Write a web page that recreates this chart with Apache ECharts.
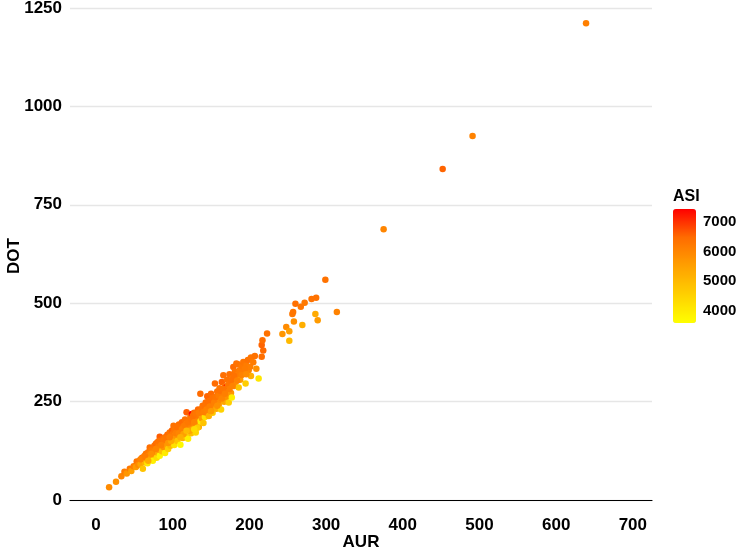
<!DOCTYPE html>
<html>
<head>
<meta charset="utf-8">
<script src="https://cdn.jsdelivr.net/npm/echarts@6/dist/echarts.min.js"></script>
<style>html,body{margin:0;padding:0;background:#fff;}#main{width:740px;height:553px;}</style>
</head>
<body>
<div id="main"></div>
<script>
const aur = [
17,26,33,37,40,44,46,49,52,53,
55,57,58,60,61,62,63,64,65,66,
67,68,69,70,70,71,72,73,74,75,
76,76,77,78,79,80,80,81,82,83,
83,84,85,86,86,87,88,89,90,90,
91,92,93,94,95,95,96,97,98,99,
100,100,101,102,103,104,105,106,107,108,
109,110,110,111,112,113,114,115,116,117,
118,118,119,120,121,122,123,124,125,125,
126,127,128,129,130,131,132,133,134,135,
136,136,137,138,139,140,141,142,143,144,
145,146,147,148,149,150,151,152,153,154,
155,156,157,158,159,160,161,162,163,164,
165,166,167,168,170,170,171,172,173,174,
175,176,177,178,179,180,181,182,183,184,
185,186,187,188,190,192,193,195,196,198,
199,201,202,202,205,207,209,212,216,218,
216,217,223,243,248,252,252,256,257,258,
260,267,269,272,281,286,287,289,299,314,
375,452,491,639,58,64,68,72,78,82,
88,92,94,98,102,104,106,108,112,114,
116,120,122,124,126,128,130,132,134,138,
140,142,144,146,148,150,152,154,156,158,
160,162,164,166,168,172,174,176,178,180,
184,188,190,194,196,85,96,110,118,128
];
const dot = [
33,47,61,72,68,80,74,86,84,98,
90,100,92,108,80,103,112,96,118,107,
94,122,113,134,104,120,127,110,100,131,
138,118,125,143,108,132,147,120,138,161,
113,128,150,142,124,156,135,146,120,160,
152,140,166,130,158,148,172,138,162,177,
150,168,189,140,172,160,182,150,176,192,
165,141,184,172,198,158,188,178,205,162,
223,194,182,156,200,188,212,170,219,196,
180,206,222,190,172,214,200,230,186,218,
200,270,226,208,240,196,232,211,248,222,
264,236,214,252,228,270,244,222,258,236,
296,250,232,276,262,242,284,254,230,300,
270,317,250,288,287,262,306,276,248,320,
296,272,261,310,338,290,326,300,347,318,
345,286,330,306,340,351,322,296,342,356,
330,339,362,315,350,366,334,309,364,380,
394,406,423,422,440,429,405,473,478,454,
499,491,445,501,511,473,514,457,560,478,
688,841,925,1211,104,110,100,118,130,150,
152,158,145,150,178,170,186,170,180,168,
190,198,176,206,214,198,220,184,222,232,
224,240,230,250,238,226,260,248,262,240,
266,278,258,282,270,292,282,304,290,316,
304,322,318,334,320,140,160,160,176,180
];
const asi = [
5900,5800,6000,6180,5700,6240,5500,6120,5600,6300,
5900,6180,5400,6360,4800,6000,6120,5100,6300,5800,
4100,6240,5900,6420,5200,6060,6180,5500,3900,6120,
6300,5700,6000,6480,4300,6060,6360,5400,6180,6600,
3800,5600,6240,6000,4900,6420,5800,6120,4000,6300,
6060,5500,6480,4600,6180,5900,6360,5000,6120,6540,
5600,6240,6360,4200,6060,5700,6300,4800,6180,6420,
5800,3700,6240,6000,6480,5200,6180,5900,6360,4700,
6600,6120,5700,3900,6240,6000,6360,4900,7400,6060,
5500,6180,6420,5800,4400,6240,6000,6480,5300,6120,
4000,6480,6180,5600,6360,4800,6240,4200,6420,5900,
6540,6120,5200,6300,5800,6480,6180,4700,6240,5900,
6480,6060,5300,6360,6120,5600,6300,5900,4500,6540,
6180,6420,5400,6240,7400,5800,6360,6060,4600,6420,
6180,5700,3900,6240,6480,6000,6300,5800,6420,6120,
6360,4800,6180,5600,6240,6300,5900,4600,6180,6360,
6000,6120,6300,5200,6180,6360,5800,4100,6420,6480,
6540,6420,6360,5700,5900,5500,5000,6240,6300,5800,
6420,6300,5200,6240,6360,5300,6360,5600,6360,6060,
6000,6540,6060,6120,6060,6180,5300,5800,6000,6360,
6240,6300,5700,5300,6300,6120,6360,6000,6060,5500,
6180,6240,5400,6300,6360,6000,6300,4600,6180,6300,
6120,6360,6060,6420,6120,5600,6360,6120,6300,5800,
6180,6360,6000,6300,6120,6300,6120,6360,6060,6360,
6060,6180,6060,6180,5900,6060,6120,5200,5000,4300
];
const xTicks = [0, 100, 200, 300, 400, 500, 600, 700];
const yTicks = [0, 250, 500, 750, 1000, 1250];
const legendTicks = [4000, 5000, 6000, 7000];
const asiRange = [3585, 7430];
const gradient = ['#FFFF00', '#FFD000', '#FFA000', '#FF6C00', '#FF0000'];

const data = aur.map((a, i) => [a, dot[i], asi[i]]);
const font = 'Liberation Sans, Arial, Helvetica, sans-serif';
const bold = {color: '#000', fontWeight: 'bold', fontFamily: font};
const plain = v => String(v);

const chart = echarts.init(document.getElementById('main'), null, {renderer: 'canvas'});
chart.setOption({
  animation: false,
  backgroundColor: '#fff',
  textStyle: {fontFamily: font},
  title: {text: 'ASI', left: 673, top: 189, padding: 0,
    textStyle: Object.assign({fontSize: 16}, bold)},
  grid: [
    {left: 70, right: 88, top: 0, bottom: 41, containLabel: false, outerBoundsMode: 'none'},
    {left: 673, top: 209, width: 23, height: 114, containLabel: false, outerBoundsMode: 'none'}
  ],
  xAxis: [
    {gridIndex: 0, type: 'value', min: -34, max: 725,
      axisLine: {show: true, lineStyle: {color: '#000', width: 1.2}},
      axisTick: {show: false, customValues: xTicks},
      axisLabel: Object.assign({customValues: xTicks, fontSize: 17, margin: 5, formatter: plain}, bold),
      splitLine: {show: false},
      name: 'AUR', nameLocation: 'middle', nameGap: 22, nameMoveOverlap: false,
      nameTextStyle: Object.assign({fontSize: 17}, bold)},
    {gridIndex: 1, type: 'value', min: 0, max: 1, show: false}
  ],
  yAxis: [
    {gridIndex: 0, type: 'value', min: -30, max: 1270,
      axisLine: {show: false},
      axisTick: {show: false, customValues: yTicks},
      axisLabel: Object.assign({customValues: yTicks, fontSize: 17, margin: 8, formatter: plain}, bold),
      splitLine: {show: true, lineStyle: {color: '#e6e6e6', width: 1.3}},
      name: 'DOT', nameLocation: 'middle', nameGap: 47, nameRotate: 90, nameMoveOverlap: false,
      nameTextStyle: Object.assign({fontSize: 17}, bold)},
    {gridIndex: 1, type: 'value', min: asiRange[0], max: asiRange[1], position: 'right', z: 10,
      axisLine: {show: false},
      axisTick: {show: true, inside: true, length: 5, lineStyle: {color: '#ffffff', width: 1}, customValues: legendTicks},
      axisLabel: Object.assign({customValues: legendTicks, fontSize: 15, margin: 7, formatter: plain}, bold),
      splitLine: {show: false}}
  ],
  visualMap: {
    type: 'continuous', min: asiRange[0], max: asiRange[1], dimension: 2, seriesIndex: 0,
    left: 673, top: 209, itemWidth: 23, itemHeight: 114, padding: 0,
    calculable: false, text: null, showLabel: false,
    inRange: {color: gradient}
  },
  series: [{
    type: 'scatter', xAxisIndex: 0, yAxisIndex: 0, data: data,
    symbolSize: 6.5, itemStyle: {opacity: 1}
  }]
});
</script>
</body>
</html>
